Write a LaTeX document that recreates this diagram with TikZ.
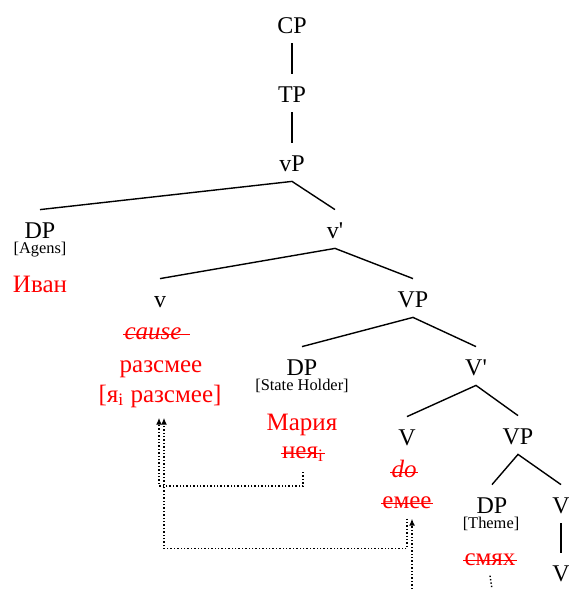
\documentclass[tikz,border=0pt]{standalone}
\usepackage{fontspec}
\setmainfont{Liberation Serif}
\usetikzlibrary{positioning, arrows.meta}

\begin{document}
\begin{tikzpicture}[x=0.5pt, y=-0.5pt,
    tag/.style={anchor=base, inner sep=5pt, text height=9pt, text depth=0pt, font=\fontsize{12}{14}\selectfont},
    note/.style={anchor=base, inner sep=1pt, font=\fontsize{8.2}{10}\selectfont},
    word/.style={anchor=base, inner sep=5pt, text=red, font=\fontsize{12.5}{15}\selectfont},
    crossed/.style={append after command={(\tikzlastnode.mid west) edge[draw=red, line width=0.6pt, shorten <=4.5pt, shorten >=#1] (\tikzlastnode.mid east)}},
    crossed/.default=4.5pt,
    branch/.style={line width=0.7pt},
    trace/.style={densely dotted, line width=0.7pt},
    move/.style={trace, -{Latex[length=3.5pt,width=3pt]}}]
  \useasboundingbox (0,0) rectangle (568,589);

  % Nodes
  \node[tag] (cp) at (292,33) {CP};
  \node[tag] (tp) at (292,102) {TP};
  \node[tag] (vp) at (292,171) {vP};
  \node[tag] (dpagens) at (40,238) {DP};
  \node[note] (agens) at (40,253) {[Agens]};
  \node[word] (ivan) at (40,292) {Иван};
  \node[tag] (vbar) at (335,238) {v\textquotesingle};
  \node[tag] (v) at (160,307) {v};
  \node[word, crossed=1pt] (cause) at (153,339) {\textit{cause}};
  \node[word] (razsmee) at (161,372) {разсмее};
  \node[word] (yi) at (160,402) {[я\textsubscript{i} разсмее]};
  \node[tag] (bigvp) at (413,307) {VP};
  \node[tag] (dpholder) at (302,375) {DP};
  \node[note] (holder) at (302,390) {[State Holder]};
  \node[word] (maria) at (302,430) {Мария};
  \node[word, crossed] (neya) at (303,458) {нея\textsubscript{i}};
  \node[tag] (bigvbar) at (476,375) {V\textquotesingle};
  \node[tag] (bigv) at (407,445) {V};
  \node[word, crossed] (do) at (404,477) {\textit{do}};
  \node[word, crossed] (emee) at (407,508) {емее};
  \node[tag] (lowvp) at (518,444) {VP};
  \node[tag] (dptheme) at (492,513) {DP};
  \node[note] (theme) at (491,528) {[Theme]};
  \node[word, crossed] (smyah) at (490,565) {смях};
  \node[tag] (rightv) at (561,513) {V};
  \node[tag] (lowv) at (561,581) {V};

  \coordinate (smyahout) at (492,589);
  \coordinate (emeeout) at (412,589);

  % Branches
  \draw[branch] (cp.south) -- (tp.north);
  \draw[branch] (tp.south) -- (vp.north);
  \draw[branch] (dpagens.north) -- (vp.south) -- (vbar.north);
  \draw[branch] (v.north) -- (vbar.south) -- (bigvp.north);
  \draw[branch] (dpholder.north) -- (bigvp.south) -- (bigvbar.north);
  \draw[branch] (bigv.north) -- (bigvbar.south) -- (lowvp.north);
  \draw[branch] (dptheme.north) -- (lowvp.south) -- (rightv.north);
  \draw[branch] (rightv.south) -- (lowv.north);

  % Arrows
  \draw[move] (neya.south) -- ++(0,14) -| ([xshift=-0.5pt]yi.south);
  \draw[move] (emee.south) -- ++(0,30) -| ([xshift=2pt]yi.south);
  \draw[move] (emeeout) -- ([xshift=2.5pt]emee.south);
  \draw[trace] (smyah.south) -- (smyahout);
\end{tikzpicture}
\end{document}
